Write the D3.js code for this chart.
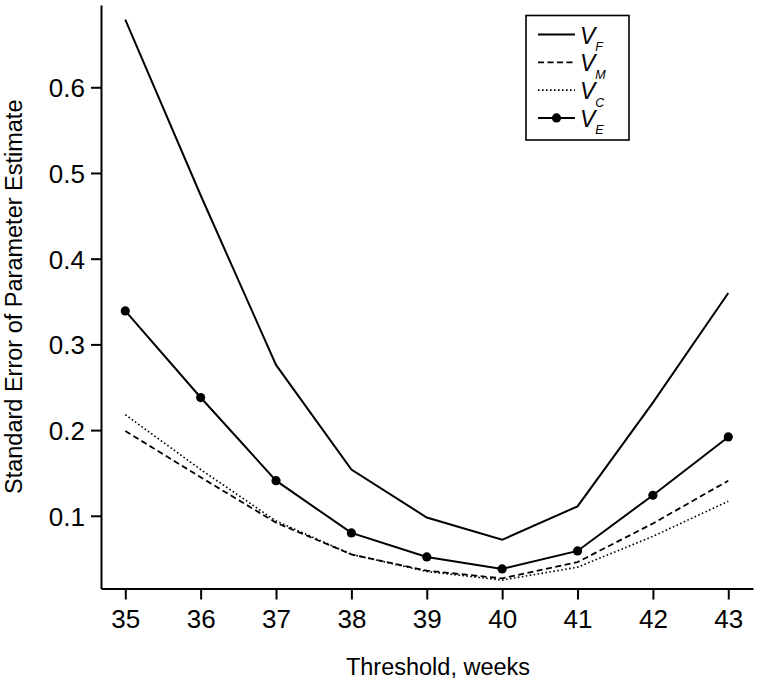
<!DOCTYPE html>
<html>
<head>
<meta charset="utf-8">
<script src="https://cdn.jsdelivr.net/npm/d3@7"></script>
<style>
  body { margin: 0; background: #fff; }
  svg { display: block; }
  text { font-family: "Liberation Sans", Arial, Helvetica, sans-serif; fill: #000; }
</style>
</head>
<body>
<svg id="chart" width="758" height="683"></svg>
<script>
// ---- data ----
const weeks = [35, 36, 37, 38, 39, 40, 41, 42, 43];
const VF = [0.679, 0.474, 0.276, 0.154, 0.098, 0.072, 0.111, 0.232, 0.360];
const VM = [0.199, 0.145, 0.092, 0.055, 0.036, 0.027, 0.046, 0.091, 0.141];
const VC = [0.218, 0.154, 0.094, 0.055, 0.035, 0.025, 0.040, 0.076, 0.117];
const VE = [0.339, 0.238, 0.141, 0.080, 0.052, 0.038, 0.059, 0.124, 0.192];
const yTicks = [0.1, 0.2, 0.3, 0.4, 0.5, 0.6];
const seriesNames = ["F", "M", "C", "E"];
const xTitle = "Threshold, weeks";
const yTitle = "Standard Error of Parameter Estimate";

// ---- layout ----
const pLeft = 101, pRight = 753, pTop = 5, pBottom = 588.5;
const x = d3.scaleLinear().domain([34.678, 43.328]).range([pLeft, pRight]);
const y = d3.scaleLinear().domain([0.01517, 0.696]).range([pBottom, pTop]);

const svg = d3.select("#chart");

// axes
const xAxis = svg.append("g")
  .attr("transform", `translate(0,${pBottom})`)
  .call(d3.axisBottom(x).tickValues(weeks).tickSize(11).tickSizeOuter(0).tickPadding(10).tickFormat(d3.format("d")));
const yAxis = svg.append("g")
  .attr("transform", `translate(${pLeft},0)`)
  .call(d3.axisLeft(y).tickValues(yTicks).tickSize(10).tickSizeOuter(0).tickPadding(6).tickFormat(d3.format(".1f")));
[xAxis, yAxis].forEach(g => {
  g.select(".domain").attr("stroke", "#000").attr("stroke-width", 2);
  g.selectAll(".tick line").attr("stroke", "#000").attr("stroke-width", 2);
  g.selectAll(".tick text").attr("font-size", 26).attr("font-family", "Liberation Sans, Arial, sans-serif").attr("fill", "#000");
});
xAxis.selectAll(".tick text").attr("dy", "0.71em");
yAxis.selectAll(".tick text").attr("dy", "0.36em");

// titles
svg.append("text")
  .attr("x", (pLeft + pRight) / 2 + 11)
  .attr("y", 675)
  .attr("text-anchor", "middle")
  .attr("font-size", 23.5)
  .text(xTitle);
svg.append("text")
  .attr("transform", `translate(22,${(pTop + pBottom) / 2}) rotate(-90)`)
  .attr("text-anchor", "middle")
  .attr("font-size", 23.5)
  .text(yTitle);

// lines
const line = d3.line().x((d, i) => x(weeks[i])).y(d => y(d));
const styles = {
  F: { data: VF, dash: null, width: 2 },
  M: { data: VM, dash: "6,3.5", width: 1.8 },
  C: { data: VC, dash: "1.6,2.4", width: 1.6 },
  E: { data: VE, dash: null, width: 2 }
};
seriesNames.forEach(k => {
  const s = styles[k];
  svg.append("path")
    .datum(s.data)
    .attr("d", line)
    .attr("fill", "none")
    .attr("stroke", "#000")
    .attr("stroke-width", s.width)
    .attr("stroke-dasharray", s.dash)
    .attr("stroke-linejoin", "miter");
});
svg.append("g").selectAll("circle")
  .data(VE)
  .join("circle")
  .attr("cx", (d, i) => x(weeks[i]))
  .attr("cy", d => y(d))
  .attr("r", 4.6)
  .attr("fill", "#000");

// legend
const lg = svg.append("g");
lg.append("rect")
  .attr("x", 526).attr("y", 15.5).attr("width", 103).attr("height", 124.5)
  .attr("fill", "#fff").attr("stroke", "#000").attr("stroke-width", 1.6);
seriesNames.forEach((k, i) => {
  const s = styles[k];
  const ry = 34.5 + i * 27.8;
  lg.append("line")
    .attr("x1", 538).attr("x2", 575).attr("y1", ry).attr("y2", ry)
    .attr("stroke", "#000").attr("stroke-width", s.width)
    .attr("stroke-dasharray", s.dash);
  if (k === "E") {
    lg.append("circle").attr("cx", 556.5).attr("cy", ry).attr("r", 4.6).attr("fill", "#000");
  }
  const t = lg.append("text")
    .attr("x", 580).attr("y", ry + 9)
    .attr("font-size", 23).attr("font-style", "italic");
  t.append("tspan").text("V");
  t.append("tspan").attr("dy", 7.5).attr("dx", 0).attr("font-size", 12.5).text(k);
});
</script>
</body>
</html>
